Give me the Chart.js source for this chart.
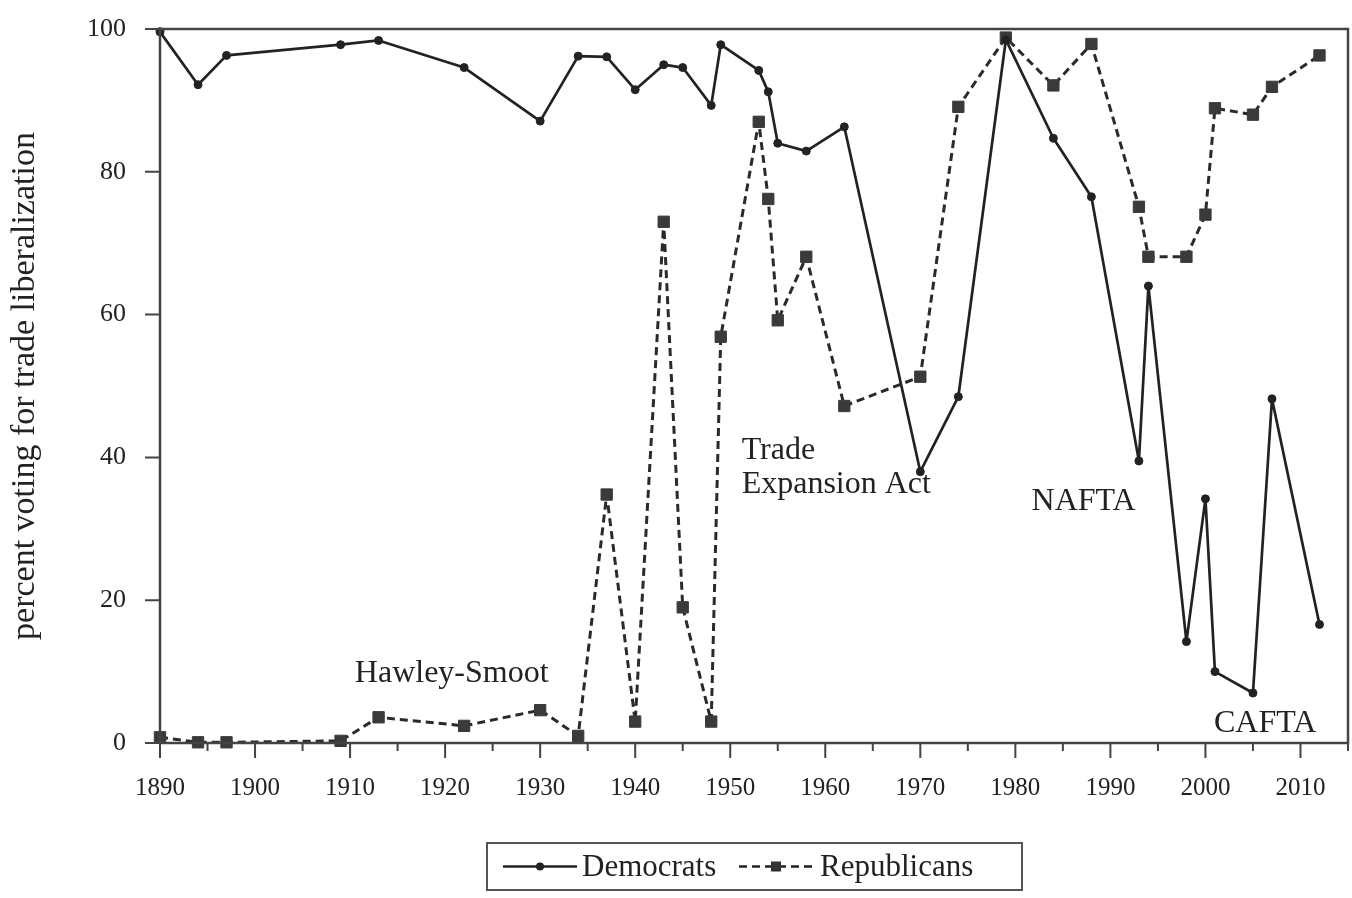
<!DOCTYPE html>
<html><head><meta charset="utf-8">
<script src="https://cdn.jsdelivr.net/npm/chart.js@4.4.1/dist/chart.umd.min.js"></script>
<style>html,body{margin:0;padding:0;background:#fff;overflow:hidden}</style>
</head><body>
<canvas id="c" width="1352" height="898" style="width:1352px;height:898px;display:block"></canvas>
<script>
// ---- data ----
const years = [1890,1894,1897,1909,1913,1922,1930,1934,1937,1940,1943,1945,1948,1949,1953,1954,1955,1958,1962,1970,1974,1979,1984,1988,1993,1994,1998,2000,2001,2005,2007,2012];
const democrats = [99.6,92.2,96.3,97.8,98.4,94.6,87.1,96.2,96.1,91.5,95.0,94.6,89.3,97.8,94.2,91.2,84.0,82.9,86.3,38.0,48.5,98.5,84.7,76.5,39.5,64.0,14.2,34.2,10.0,7.0,48.2,16.6];
const republicans = [0.8,0.1,0.1,0.3,3.6,2.4,4.6,1.0,34.8,3.0,73.0,19.0,3.0,56.9,87.0,76.2,59.2,68.1,47.2,51.3,89.1,98.8,92.1,97.9,75.1,68.1,68.1,74.0,88.9,88.0,91.9,96.3];
const yTicks = [0,20,40,60,80,100];
const xMajorTicks = [1890,1900,1910,1920,1930,1940,1950,1960,1970,1980,1990,2000,2010];
const xMinorTicks = [1895,1905,1915,1925,1935,1945,1955,1965,1975,1985,1995,2005,2015];
const seriesNames = ['Democrats','Republicans'];
const yTitle = 'percent voting for trade liberalization';
// annotations: text, year (left edge), value (baseline)
const annoText = ['Hawley-Smoot','Trade','Expansion Act','NAFTA','CAFTA'];
const annoYear = [1910.5,1951.2,1951.2,1981.7,2000.9];
const annoValue = [8.6,39.8,35.0,32.6,1.5];

const INK = '#222';
const SERIF = '"Liberation Serif","Times New Roman",serif';

const demPts = years.map((x,i)=>({x, y: democrats[i]}));
const repPts = years.map((x,i)=>({x, y: republicans[i]}));

const decor = {
  id:'decor',
  afterDraw(chart){
    const {ctx, chartArea:a, scales:{x, y}} = chart;
    ctx.save();
    // frame
    ctx.strokeStyle = '#444'; ctx.lineWidth = 2.5;
    ctx.strokeRect(a.left, a.top, a.right - a.left, a.bottom - a.top);
    // ticks
    ctx.lineWidth = 2; ctx.strokeStyle = '#444';
    ctx.beginPath();
    xMajorTicks.forEach(v=>{const px=x.getPixelForValue(v); ctx.moveTo(px,a.bottom); ctx.lineTo(px,a.bottom+15);});
    xMinorTicks.forEach(v=>{const px=x.getPixelForValue(v); ctx.moveTo(px,a.bottom); ctx.lineTo(px,a.bottom+8);});
    yTicks.forEach(v=>{const py=y.getPixelForValue(v); ctx.moveTo(a.left,py); ctx.lineTo(a.left-15,py);});
    ctx.stroke();
    // annotations
    ctx.fillStyle = INK; ctx.font = '32px ' + SERIF; ctx.textBaseline = 'alphabetic'; ctx.textAlign = 'left';
    annoText.forEach((t,i)=>{ ctx.fillText(t, x.getPixelForValue(annoYear[i]), y.getPixelForValue(annoValue[i])); });
    // legend
    const bx=487, by=843, bw=535, bh=47, cy=by+bh/2;
    ctx.lineWidth = 2; ctx.strokeStyle = '#555';
    ctx.strokeRect(bx, by, bw, bh);
    ctx.strokeStyle = INK; ctx.lineWidth = 2.5;
    ctx.beginPath(); ctx.moveTo(503,cy); ctx.lineTo(577,cy); ctx.stroke();
    ctx.fillStyle = INK; ctx.beginPath(); ctx.arc(540,cy,4,0,Math.PI*2); ctx.fill();
    ctx.setLineDash([8,5]);
    ctx.beginPath(); ctx.moveTo(739,cy); ctx.lineTo(813,cy); ctx.stroke();
    ctx.setLineDash([]);
    ctx.fillStyle = '#333'; ctx.fillRect(771,cy-5,10,10);
    ctx.fillStyle = INK; ctx.font = '31px ' + SERIF; ctx.textBaseline = 'middle';
    ctx.fillText(seriesNames[0], 582, cy+1);
    ctx.fillText(seriesNames[1], 820, cy+1);
    ctx.restore();
  }
};

new Chart(document.getElementById('c'), {
  type:'line',
  data:{ datasets:[
    {label:seriesNames[0], data:demPts, borderColor:INK, backgroundColor:INK, borderWidth:2.7, borderJoinStyle:'round',
     pointStyle:'circle', pointRadius:4, pointBackgroundColor:INK, pointBorderColor:INK, pointBorderWidth:1,
     tension:0, clip:false},
    {label:seriesNames[1], data:repPts, borderColor:'#2a2a2a', backgroundColor:'#333', borderWidth:3, borderDash:[8,5], borderJoinStyle:'round',
     pointStyle:'rect', pointRadius:8, pointBackgroundColor:'#3a3a3a', pointBorderColor:'#3a3a3a', pointBorderWidth:1,
     tension:0, clip:false}
  ]},
  options:{
    responsive:false, animation:false, devicePixelRatio:1,
    layout:{autoPadding:false, padding:{left:0,right:4,top:29,bottom:95}},
    plugins:{legend:{display:false}, tooltip:{enabled:false}},
    scales:{
      x:{type:'linear', min:1890, max:2015,
         afterBuildTicks(s){ s.ticks = xMajorTicks.map(v=>({value:v})); },
         afterFit(s){ s.height = 60; s.paddingLeft = 0; s.paddingRight = 0; },
         grid:{display:false}, border:{display:false},
         ticks:{font:{family:SERIF,size:25}, color:INK, padding:22, maxRotation:0, autoSkip:false, callback:v=>String(v)}},
      y:{min:0, max:100,
         afterBuildTicks(s){ s.ticks = yTicks.map(v=>({value:v})); },
         afterFit(s){ s.width = 160; s.paddingTop = 0; s.paddingBottom = 0; },
         grid:{display:false}, border:{display:false},
         ticks:{font:{family:SERIF,size:26}, color:INK, padding:26, callback:v=>String(v)},
         title:{display:true, text:yTitle, font:{family:SERIF,size:34}, color:INK, padding:{top:5,bottom:0}}}
    }
  },
  plugins:[decor]
});
</script>
</body></html>
